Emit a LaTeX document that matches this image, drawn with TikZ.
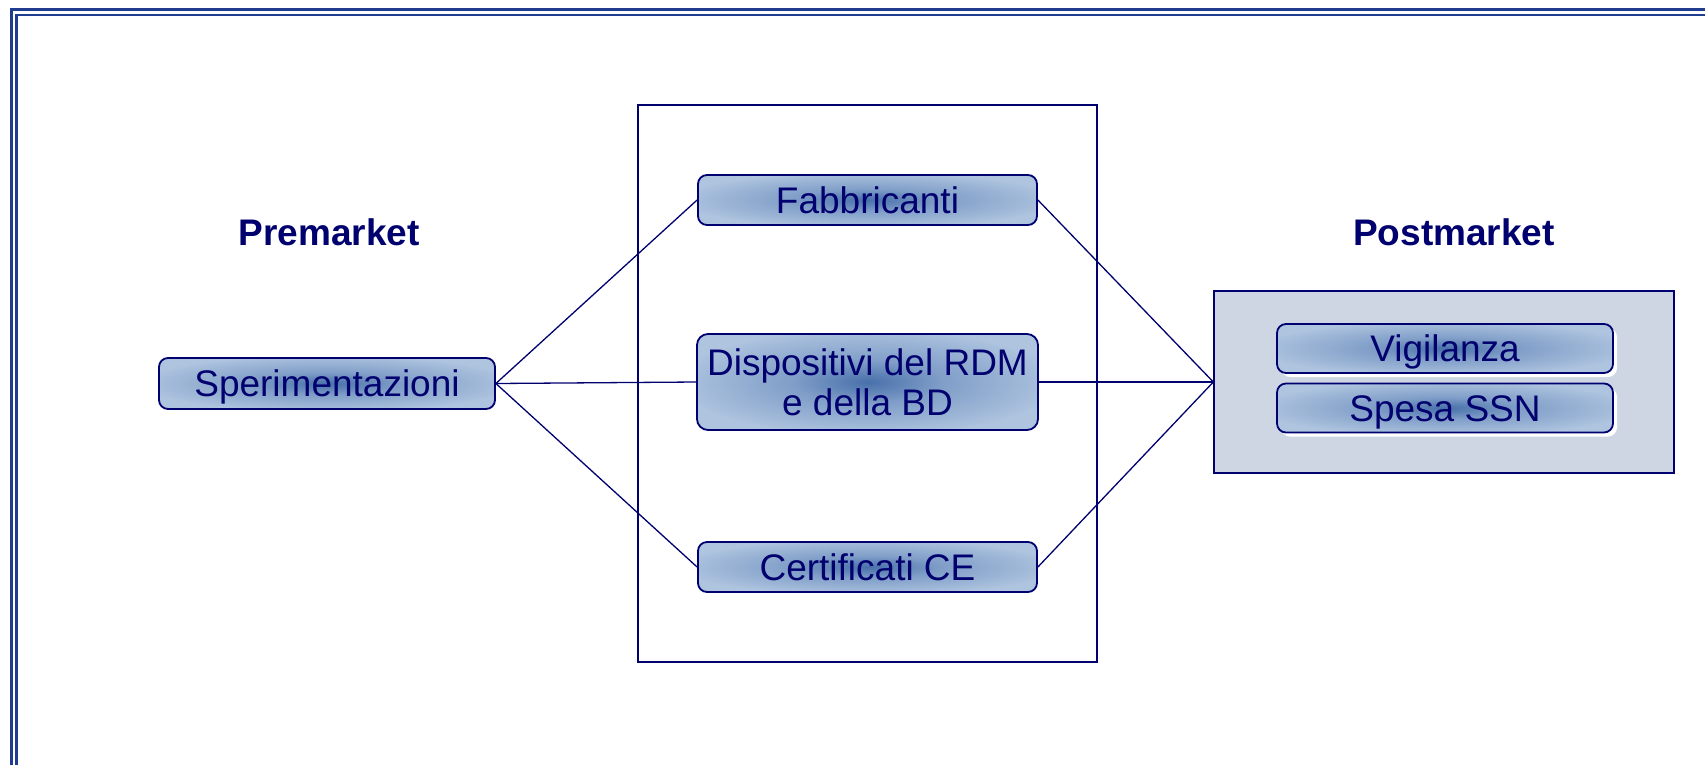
\documentclass[tikz,border=0pt]{standalone}
\usepackage{fontspec}
\setmainfont{Liberation Sans}
\usetikzlibrary{shadows}
\definecolor{navytxt}{RGB}{0,0,110}
\definecolor{bordc}{RGB}{32,60,145}
\definecolor{basec}{RGB}{174,196,223}
\definecolor{glowc}{RGB}{72,112,170}
\definecolor{midc}{RGB}{128,158,200}
\definecolor{postfill}{RGB}{205,214,226}
\pgfdeclareradialshading{glow}{\pgfpoint{0bp}{0bp}}{color(0bp)=(glowc); color(11bp)=(midc); color(28bp)=(basec); color(50bp)=(basec)}
\tikzset{
  boxnode/.style={draw=navytxt, line width=1.8pt, rounded corners=9pt, shading=glow,
    text=navytxt, font=\fontsize{37}{40}\selectfont, inner sep=0pt,
    text height=26.5pt, text depth=0pt},
  subnode/.style={boxnode, drop shadow={shadow xshift=4pt, shadow yshift=-4pt, fill=white, opacity=1}},
  conn/.style={draw=navytxt, line width=1.3pt},
  frameline/.style={draw=bordc, line width=2.7pt},
  heading/.style={font=\bfseries\fontsize{37}{40}\selectfont, text=navytxt, anchor=base, inner sep=0pt},
}
\begin{document}
\begin{tikzpicture}[x=1pt, y=-1pt]
\useasboundingbox (0,0) rectangle (1705,764);
\begin{scope}
  \clip (0,0) rectangle (1705,764);
  \draw[frameline] (11.3,9.5) rectangle (1760,820);
  \draw[frameline] (16.3,15) rectangle (1760,820);
\end{scope}
% central frame
\node[draw=navytxt, line width=1.2pt, minimum width=459pt, minimum height=557pt, inner sep=0pt] (mid) at (867.5,383.5) {};
% postmarket frame
\node[draw=navytxt, fill=postfill, line width=1.3pt, minimum width=460pt, minimum height=182pt, inner sep=0pt] (post) at (1444,382) {};
% headings
\node[heading] (pre) at (329,245) {Premarket};
\node[heading] (postl) at (1454,245) {Postmarket};
% nodes
\node[boxnode, minimum width=336pt, minimum height=51pt] (sper) at (327,383.5) {Sperimentazioni};
\node[boxnode, minimum width=339pt, minimum height=50pt] (fab) at (867.5,200) {Fabbricanti};
\node[boxnode, minimum width=341pt, minimum height=96pt, align=center, text height=66.5pt, text depth=0pt, rounded corners=11pt] (disp) at (867.5,382) {Dispositivi del RDM\\e della BD};
\node[boxnode, minimum width=339pt, minimum height=50pt] (cert) at (867.5,567) {Certificati CE};
\node[subnode, minimum width=336pt, minimum height=49pt] (vig) at (1445,348.5) {Vigilanza};
\node[subnode, minimum width=336pt, minimum height=49pt] (spesa) at (1445,408) {Spesa SSN};
% connectors
\draw[conn] (sper.east) -- (fab.west);
\draw[conn] (sper.east) -- (disp.west);
\draw[conn] (sper.east) -- (cert.west);
\draw[conn] (fab.east) -- (post.west);
\draw[conn] (disp.east) -- (post.west);
\draw[conn] (cert.east) -- (post.west);
\end{tikzpicture}
\end{document}
